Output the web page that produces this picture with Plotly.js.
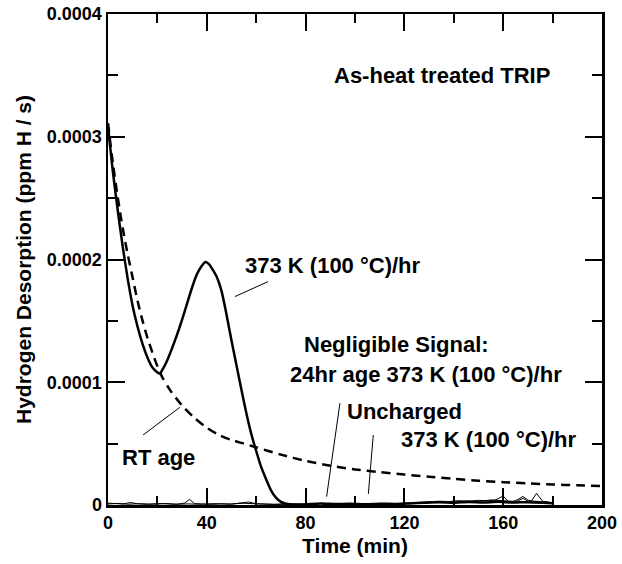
<!DOCTYPE html>
<html>
<head>
<meta charset="utf-8">
<script src="https://cdn.plot.ly/plotly-3.0.1.min.js"></script>
<style>html,body{margin:0;padding:0;background:#fff;}#chart{width:622px;height:564px;}</style>
</head>
<body>
<div id="chart"></div>
<script>
// ---- Data (Time in min, desorption in ppm H / s) ----
const heat373Time = [0,2,4,6,8,10,12,14,16,18,20,21,22,24,26,28,30,32,34,36,38,39.5,41,42,44,46,48,50,52,54,56,58,60,62,64,66,68,70,72,74,76,80,86,92,98,104,110,116,122,128,134,140,146,152,158,164,170,176,180];
const heat373Rate = [0.000308,0.000271,0.000239,0.000210,0.000184,0.000162,0.000145,0.000131,0.000120,0.000112,0.000108,0.000107,0.000110,0.000118,0.000128,0.000139,0.000151,0.000164,0.000177,0.000188,0.000195,0.000198,0.000196,0.000193,0.000186,0.000174,0.000155,0.000134,0.000114,0.000094,0.000075,0.000058,0.000044,0.000031,0.000021,0.000012,0.000006,0.0000025,0.0000010,0.0000004,0.0000002,0.0000005,0.0000012,0.0000008,0.0000010,0.0000006,0.0000011,0.0000009,0.0000013,0.0000018,0.0000022,0.0000019,0.0000024,0.0000021,0.0000026,0.0000020,0.0000023,0.0000019,0.0000015];

const rtAgeTime = [0,2,4,6,8,10,12,14,16,18,20,22,25,30,35,40,45,50,55,60,70,80,90,100,110,120,130,140,150,160,170,180,190,200];
const rtAgeRate = [0.000311,0.000278,0.000250,0.000225,0.000204,0.000185,0.000166,0.000150,0.000136,0.000124,0.000113,0.000104,0.000094,0.000081,0.000071,0.000063,0.000057,0.000053,0.000050,0.000047,0.000041,0.000036,0.000032,0.0000290,0.0000268,0.0000248,0.0000230,0.0000213,0.0000198,0.0000186,0.0000176,0.0000168,0.0000160,0.0000155];

const unchargedTime = [0,3,6,9,12,16,20,24,28,31,33,35,38,42,46,50,54,57,60,64,68,72,76,80,85,90,95,100,105,110,115,120,125,130,134,138,142,146,150,154,157,160,162,165,168,171,173.5,176,179];
const unchargedRate = [0.0000015,0.0000012,0.0000008,0.0000020,0.0000010,0.0000006,0.0000009,0.0000011,0.0000007,0.0000015,0.0000046,0.0000012,0.0000008,0.0000005,0.0000009,0.0000006,0.0000018,0.0000024,0.0000010,0.0000006,0.0000004,0.0000007,0.0000005,0.0000008,0.0000011,0.0000009,0.0000006,0.0000010,0.0000008,0.0000012,0.0000007,0.0000014,0.0000019,0.0000026,0.0000031,0.0000028,0.0000035,0.0000030,0.0000038,0.0000034,0.0000042,0.0000073,0.0000030,0.0000024,0.0000054,0.0000020,0.0000095,0.0000030,0.0000022];

const aged24Time = [0,4,8,12,17,22,27,32,37,43,49,55,61,67,73,79,86,93,100,107,114,121,128,134,140,145,150,155,160,164,166,168,170,172,175,179];
const aged24Rate = [0.0000008,0.0000013,0.0000006,0.0000010,0.0000007,0.0000012,0.0000005,0.0000009,0.0000006,0.0000011,0.0000008,0.0000014,0.0000009,0.0000006,0.0000010,0.0000007,0.0000012,0.0000008,0.0000011,0.0000006,0.0000010,0.0000013,0.0000020,0.0000027,0.0000024,0.0000033,0.0000029,0.0000041,0.0000036,0.0000030,0.0000045,0.0000070,0.0000040,0.0000032,0.0000028,0.0000020];

const xTickVals = [0,40,80,120,160,200];
const yTickVals = [0,0.0001,0.0002,0.0003,0.0004];
const yTickText = ['0','0.0001','0.0002','0.0003','0.0004'];

const labelTexts = ['As-heat treated TRIP','373 K (100 °C)/hr','Negligible Signal:','24hr age 373 K (100 °C)/hr','Uncharged','373 K (100 °C)/hr','RT age'];
const labelX = [135.2,90.9,117,128.8,120.2,154.3,20.6];
const labelY = [0.000350,0.0001948,0.0001305,0.0001060,0.0000758,0.0000530,0.0000391];

// leader lines: [x0,y0,x1,y1]
const leaders = [
  [51.4,0.0001698,64.8,0.0001820],
  [14.2,0.0000570,29.1,0.0000796],
  [88.5,0.0000068,93.9,0.0000829],
  [105.4,0.0000090,107.4,0.0000570]
];

const F = 'Liberation Sans, Arial, sans-serif';

const traces = [
  {x: unchargedTime, y: unchargedRate, mode:'lines', line:{color:'#000', width:1}, hoverinfo:'skip'},
  {x: aged24Time, y: aged24Rate, mode:'lines', line:{color:'#000', width:1}, hoverinfo:'skip'},
  {x: rtAgeTime, y: rtAgeRate, mode:'lines', line:{color:'#000', width:2.5, dash:'9px,6px', shape:'spline', smoothing:0.8}, hoverinfo:'skip'},
  {x: heat373Time, y: heat373Rate, mode:'lines', line:{color:'#000', width:2.5, shape:'spline', smoothing:0.5}, hoverinfo:'skip'}
];

const annotations = labelTexts.map((t,i)=>({
  x: labelX[i], y: labelY[i], xref:'x', yref:'y', text: t, showarrow:false,
  xanchor:'center', yanchor:'middle',
  font:{family:F, size:22, color:'#000', weight:'bold'}
}));

const shapes = leaders.map(l=>({
  type:'line', xref:'x', yref:'y', x0:l[0], y0:l[1], x1:l[2], y1:l[3],
  line:{color:'#000', width:1}
}));

const axisCommon = {
  showgrid:false, zeroline:false, showline:true, linecolor:'#000', linewidth:2.5,
  mirror:'ticks', ticks:'inside', ticklen:17, tickwidth:2, tickcolor:'#000',
  tickfont:{family:F, size:18, color:'#000', weight:'bold'}
};

const layout = {
  width:622, height:564,
  margin:{l:108, r:20, t:14, b:59},
  paper_bgcolor:'#fff', plot_bgcolor:'#fff',
  showlegend:false,
  xaxis: Object.assign({}, axisCommon, {
    range:[0,200], tickmode:'array', tickvals:xTickVals,
    minor:{ticks:'inside', ticklen:9, tickwidth:2, tickcolor:'#000', dtick:20, tick0:0, showgrid:false},
    title:{text:'Time (min)', standoff:6, font:{family:F, size:21, color:'#000', weight:'bold'}}
  }),
  yaxis: Object.assign({}, axisCommon, {
    range:[0,0.0004], tickmode:'array', tickvals:yTickVals, ticktext:yTickText,
    minor:{ticks:'inside', ticklen:10, tickwidth:2, tickcolor:'#000', dtick:0.00005, tick0:0, showgrid:false},
    title:{text:'Hydrogen Desorption (ppm H / s)', standoff:10, font:{family:F, size:21, color:'#000', weight:'bold'}}
  }),
  annotations: annotations,
  shapes: shapes
};

Plotly.newPlot('chart', traces, layout, {displayModeBar:false, staticPlot:true});
</script>
</body>
</html>
